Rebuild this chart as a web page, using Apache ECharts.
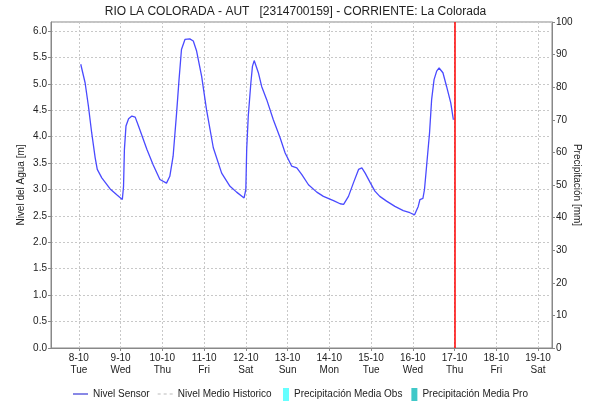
<!DOCTYPE html>
<html><head><meta charset="utf-8">
<script src="https://cdn.jsdelivr.net/npm/echarts@6/dist/echarts.min.js"></script>
<style>html,body{margin:0;padding:0;background:#fff}#c{width:591px;height:403px}</style>
</head><body><div id="c"></div>
<script>
// Hours since 8-10 00:00
const sensorHours = [1.1,3.6,5.5,7.4,9.4,10.6,13.2,18,21.8,25,25.7,26.2,27.1,28.6,30.5,32.4,34.3,39.1,42.7,46.6,50.4,52.3,54.2,56.2,57.6,59,61,63.8,65.8,67.7,70.6,73.4,77.3,82.1,86.9,90.7,95,96,96.5,97.4,98.9,99.8,100.8,103.2,105.1,108,111.8,115.7,118.6,122.4,125.3,128.2,132,136.8,140.6,146.4,150.2,152.2,155,157.9,160.8,162.7,164.6,167.5,170.2,173,176.9,181.7,186.5,190.3,193,195.1,196.1,197.8,198.7,199.9,201.6,202.8,204.2,205.7,207.1,209.3,211.4,213.8,215.3];
const sensorLevels = [5.37,5.02,4.58,4.07,3.60,3.38,3.22,3.01,2.90,2.81,3.06,3.76,4.20,4.34,4.39,4.37,4.20,3.76,3.47,3.19,3.12,3.25,3.63,4.45,5.08,5.65,5.84,5.85,5.81,5.62,5.14,4.51,3.79,3.31,3.06,2.95,2.84,3.0,3.76,4.39,5.02,5.33,5.44,5.21,4.95,4.70,4.32,3.98,3.69,3.44,3.41,3.28,3.09,2.95,2.87,2.79,2.73,2.72,2.87,3.13,3.38,3.41,3.31,3.13,2.97,2.87,2.78,2.68,2.60,2.56,2.52,2.68,2.81,2.83,3.0,3.44,4.07,4.70,5.08,5.24,5.30,5.21,4.95,4.64,4.32];
const historicLevels = [];
const precipObs = [];
const precipPro = [];
const dayLabels = ['8-10','9-10','10-10','11-10','12-10','13-10','14-10','15-10','16-10','17-10','18-10','19-10'];
const weekdayLabels = ['Tue','Wed','Thu','Fri','Sat','Sun','Mon','Tue','Wed','Thu','Fri','Sat'];
const nowHour = 216;

const tickHours = dayLabels.map((d,i)=>i*24);
const sensorData = sensorHours.map((h,i)=>[h, sensorLevels[i]]);
const font = 'Liberation Sans, Arial, sans-serif';
const legendText = {fontFamily:font, fontSize:10, color:'#222'};

const chart = echarts.init(document.getElementById('c'), null, {renderer:'canvas'});
chart.setOption({
  animation:false,
  title:{text:'RIO LA COLORADA - AUT   [2314700159] - CORRIENTE: La Colorada', left:'center', top:1,
    textStyle:{fontFamily:font, fontSize:12, fontWeight:'normal', color:'#222'}},
  grid:{left:51, right:39, top:22, bottom:55, show:true, borderColor:'#888', borderWidth:1,
    containLabel:false, outerBoundsMode:'none'},
  legend:[
    {bottom:4, left:73, padding:0, itemGap:8, itemWidth:15, itemHeight:13, textStyle:legendText,
      data:[
        {name:'Nivel Sensor', icon:'path://M0,0h18v1.2h-18z'},
        {name:'Nivel Medio Historico', icon:'path://M0,0h3v1h-3zM6,0h3v1h-3zM12,0h3v1h-3z'}
      ]},
    {bottom:2, left:283, padding:0, itemGap:9, itemWidth:6, itemHeight:13, textStyle:legendText,
      data:[
        {name:'Precipitación Media Obs', icon:'rect'},
        {name:'Precipitación Media Pro', icon:'rect'}
      ]}
  ],
  xAxis:{type:'value', min:-16, max:272,
    axisLine:{onZero:false, lineStyle:{color:'#888'}},
    axisTick:{customValues:tickHours, length:3, lineStyle:{color:'#888'}},
    axisLabel:{customValues:tickHours, fontFamily:font, fontSize:10, color:'#222', lineHeight:12, margin:4,
      formatter:(v)=>{const i=Math.round(v/24); return dayLabels[i]+'\n'+weekdayLabels[i];}},
    splitLine:{show:true, lineStyle:{color:'#c8c8c8', type:[2,2]}}
  },
  yAxis:[
    {type:'value', min:0, max:6.17, interval:0.5, position:'left',
      name:'Nivel del Agua [m]', nameLocation:'middle', nameRotate:90, nameGap:25, nameMoveOverlap:false,
      nameTextStyle:{fontFamily:font, fontSize:10, color:'#222'},
      axisLine:{show:true, onZero:false, lineStyle:{color:'#888'}},
      axisTick:{show:true, length:3, lineStyle:{color:'#888'}},
      axisLabel:{fontFamily:font, fontSize:10, color:'#222', showMaxLabel:false, margin:4, formatter:(v)=>v.toFixed(1)},
      splitLine:{show:true, lineStyle:{color:'#c8c8c8', type:[2,2]}}},
    {type:'value', min:0, max:100, interval:10, position:'right',
      name:'Precipitación [mm]', nameLocation:'middle', nameRotate:-90, nameGap:20, nameMoveOverlap:false,
      nameTextStyle:{fontFamily:font, fontSize:10, color:'#222'},
      axisLine:{show:true, onZero:false, lineStyle:{color:'#888'}},
      axisTick:{show:true, length:3, lineStyle:{color:'#888'}},
      axisLabel:{fontFamily:font, fontSize:10, color:'#222', margin:4},
      splitLine:{show:false}}
  ],
  series:[
    {name:'Nivel Sensor', type:'line', data:sensorData, symbol:'none', smooth:false,
      lineStyle:{color:'#4a4aff', width:1.3}, itemStyle:{color:'#1010cc'},
      markLine:{silent:true, symbol:'none', label:{show:false},
        lineStyle:{color:'#ff0000', width:1.5, type:'solid'}, data:[{xAxis:nowHour}]}},
    {name:'Nivel Medio Historico', type:'line', data:historicLevels, symbol:'none',
      lineStyle:{color:'#c0c0c0', width:1.3, type:[3,3]}, itemStyle:{color:'#bbbbbb'}},
    {name:'Precipitación Media Obs', type:'bar', yAxisIndex:1, data:precipObs, itemStyle:{color:'#66ffff'}},
    {name:'Precipitación Media Pro', type:'bar', yAxisIndex:1, data:precipPro, itemStyle:{color:'#40c8c8'}}
  ]
});
</script></body></html>
